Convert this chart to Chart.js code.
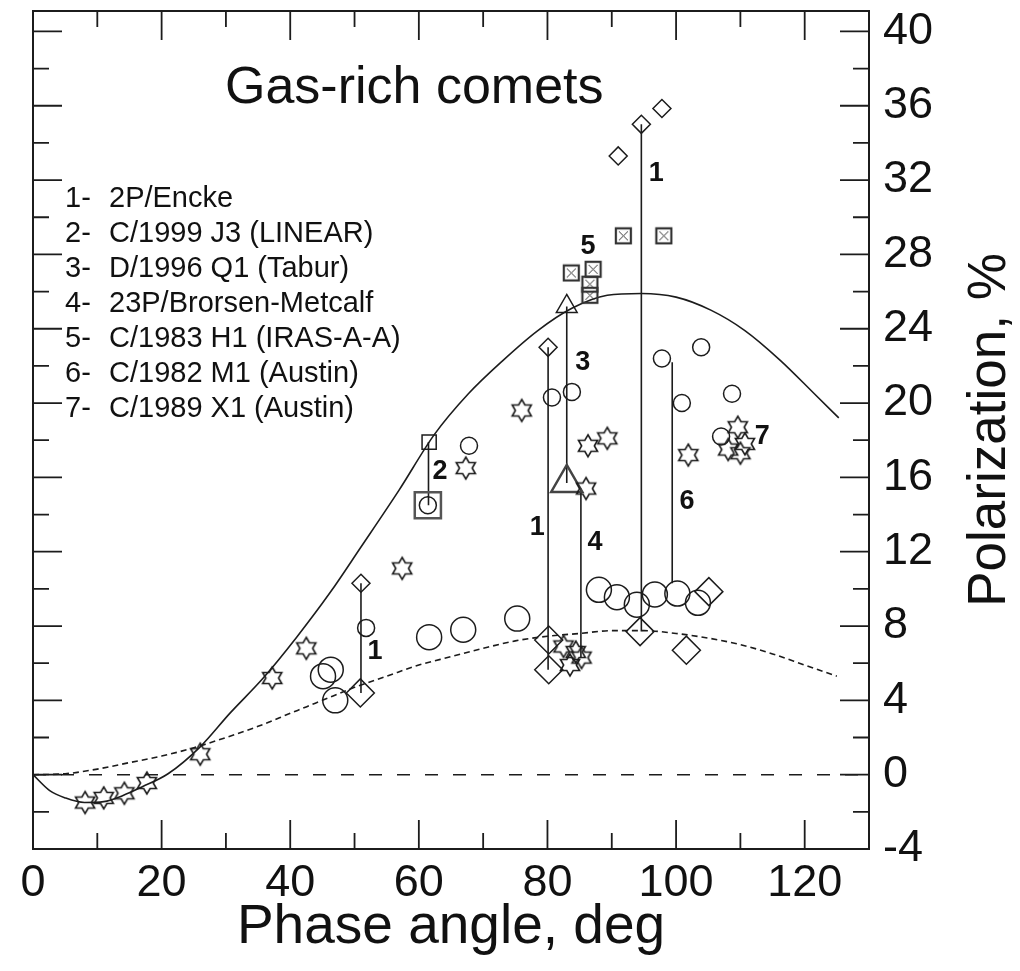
<!DOCTYPE html>
<html>
<head>
<meta charset="utf-8">
<title>Gas-rich comets</title>
<script src="https://cdn.jsdelivr.net/npm/chart.js@4.4.1/dist/chart.umd.min.js"></script>
<style>
  html, body { margin: 0; padding: 0; background: #fff; }
  #wrap { width: 1020px; height: 971px; position: relative; }
</style>
</head>
<body>
<div id="wrap"><canvas id="chart"></canvas></div>
<script>
const xTicks = [0, 20, 40, 60, 80, 100, 120];
const yTicks = [-4, 0, 4, 8, 12, 16, 20, 24, 28, 32, 36, 40];

const comets = ['2P/Encke', 'C/1999 J3 (LINEAR)', 'D/1996 Q1 (Tabur)', '23P/Brorsen-Metcalf',
  'C/1983 H1 (IRAS-A-A)', 'C/1982 M1 (Austin)', 'C/1989 X1 (Austin)'];

// phase curves
const solidX = [0, 2.6, 5, 8, 11, 14, 17, 21, 26, 30.6, 35.8, 41, 46.2, 50.9, 56.9, 62.4, 67.7, 73.1, 78.5, 83.8, 89.3, 94.6, 100, 105.4, 110.7, 116.2, 121.5, 125.3];
const solidY = [0, -0.86, -1.25, -1.5, -1.45, -1.12, -0.65, 0.05, 1.5, 3.3, 5.2, 7.4, 9.8, 12.2, 15.3, 18.3, 20.5, 22.3, 23.9, 25.1, 25.8, 25.9, 25.7, 25.0, 23.9, 22.3, 20.5, 19.2];
const dotX = [0, 5, 10, 15, 20, 25, 30, 35, 40, 45, 50, 55, 60, 65, 70, 75, 80, 85, 90, 95, 100, 105, 110, 115, 120, 125];
const dotY = [0, 0.05, 0.3, 0.65, 1.0, 1.45, 2.0, 2.6, 3.3, 4.0, 4.7, 5.3, 5.9, 6.35, 6.8, 7.2, 7.45, 7.6, 7.75, 7.75, 7.6, 7.35, 7.0, 6.5, 5.9, 5.3];

// observations [phase, polarization]
const smallDiamonds = [[51.0, 10.3], [80.1, 23.0], [91.0, 33.3], [94.6, 35.0], [97.8, 35.85]];
const bigDiamonds = [[50.9, 4.4], [80.2, 7.25], [80.2, 5.65], [94.4, 7.7], [101.6, 6.7], [105.1, 9.85]];
const smallCircles = [[51.8, 7.9], [61.4, 14.5], [67.8, 17.7], [80.7, 20.3], [83.8, 20.6], [97.8, 22.4],
  [100.9, 20.0], [103.9, 23.0], [107.0, 18.2], [108.7, 20.5]];
const bigCircles = [[45.1, 5.3], [46.3, 5.65], [47.0, 4.0], [61.6, 7.4], [66.9, 7.8], [75.3, 8.4], [88.0, 9.95],
  [90.8, 9.55], [93.9, 9.15], [96.7, 9.7], [100.2, 9.75], [103.4, 9.25]];
const stars = [[8.1, -1.5], [11.0, -1.25], [14.2, -1.0], [17.7, -0.45], [26.0, 1.1], [37.2, 5.2], [42.5, 6.8],
  [57.4, 11.1], [67.3, 16.5], [76.0, 19.6], [82.5, 6.9], [83.5, 5.9], [84.4, 6.6], [85.3, 6.3], [86.0, 15.4],
  [86.3, 17.7], [89.3, 18.1], [101.9, 17.2], [108.1, 17.5], [109.6, 18.7], [110.0, 17.3], [110.7, 17.8]];
const crossSquares = [[83.7, 27.0], [86.6, 25.8], [86.6, 26.4], [87.1, 27.2], [91.8, 29.0], [98.1, 29.0]];
const smallTriangles = [[83.0, 25.2]];
const bigTriangles = [[83.0, 15.7]];
const smallSquares = [[61.6, 17.9]];
const bigSquares = [[61.4, 14.5]];

// vertical connectors [phase, top, bottom]
const connectors = [[51.0, 10.3, 4.4], [61.5, 17.9, 14.5], [80.1, 23.0, 5.65], [83.0, 25.2, 15.7],
  [85.2, 15.4, 6.3], [94.6, 35.0, 7.7], [99.4, 22.2, 10.3]];

// comet numbers written next to the connectors
const numText = ['1', '5', '3', '2', '1', '4', '6', '7', '1'];
const numPos = [[96.9, 32.35], [86.3, 28.4], [85.5, 22.2], [63.3, 16.3], [78.4, 13.3], [87.4, 12.5],
  [101.7, 14.7], [113.4, 18.2], [53.2, 6.6]];

const ink = '#1c1c1c';
const font = "'Liberation Sans', Arial, Helvetica, sans-serif";

function pts(arr) {
  return arr.map(p => ({ x: p[0], y: p[1] }));
}

function makeStar(r, lw) {
  const s = Math.ceil(2 * r + 2 * lw + 2);
  const c = document.createElement('canvas');
  c.width = c.height = s;
  const g = c.getContext('2d');
  g.translate(s / 2, s / 2);
  g.beginPath();
  for (let i = 0; i < 12; i++) {
    const a = -Math.PI / 2 + i * Math.PI / 6;
    const rr = i % 2 === 0 ? r : r / Math.sqrt(3);
    g.lineTo(rr * Math.cos(a), rr * Math.sin(a));
  }
  g.closePath();
  g.lineWidth = lw;
  g.strokeStyle = ink;
  g.stroke();
  return c;
}

function makeCrossSquare(side) {
  const s = side + 4;
  const c = document.createElement('canvas');
  c.width = c.height = s;
  const g = c.getContext('2d');
  const o = 2;
  g.strokeStyle = '#333';
  g.lineWidth = 2.2;
  g.strokeRect(o, o, side, side);
  g.lineWidth = 1;
  g.beginPath();
  g.moveTo(o + 3, o + 3); g.lineTo(o + side - 3, o + side - 3);
  g.moveTo(o + side - 3, o + 3); g.lineTo(o + 3, o + side - 3);
  g.stroke();
  return c;
}

const starImg = makeStar(11, 1.6);
const crossImg = makeCrossSquare(15);

function markers(arr, style, radius, extra) {
  return Object.assign({
    data: pts(arr),
    pointStyle: style,
    pointRadius: radius,
    pointHoverRadius: radius,
    pointBorderColor: ink,
    pointBackgroundColor: 'rgba(0,0,0,0)',
    pointBorderWidth: 1.5,
    showLine: false
  }, extra || {});
}

function curve(xs, ys, dash, width) {
  return {
    data: xs.map((x, i) => ({ x: x, y: ys[i] })),
    showLine: true,
    borderColor: ink,
    borderWidth: width,
    borderDash: dash,
    pointRadius: 0,
    cubicInterpolationMode: 'monotone',
    fill: false
  };
}

const datasets = [
  markers(smallDiamonds, 'rectRot', 9),
  markers(bigDiamonds, 'rectRot', 14),
  markers(smallCircles, 'circle', 8.5),
  markers(bigCircles, 'circle', 12.5),
  markers(stars, starImg, 10),
  markers(crossSquares, crossImg, 9),
  markers(smallTriangles, 'triangle', 12),
  markers(bigTriangles, 'triangle', 18, { pointBorderWidth: 2.5, pointBorderColor: '#444' }),
  markers(smallSquares, 'rect', 10),
  markers(bigSquares, 'rect', 18.5, { pointBorderWidth: 2.5, pointBorderColor: '#555' }),
  curve(solidX, solidY, [], 1.6),
  curve(dotX, dotY, [6, 4], 1.6),
  curve([0, 130], [0, 0], [13, 15], 1.6)
];
connectors.forEach(c => {
  datasets.push({
    data: [{ x: c[0], y: c[1] }, { x: c[0], y: c[2] }],
    showLine: true,
    borderColor: ink,
    borderWidth: 1.6,
    pointRadius: 0
  });
});

const framePlugin = {
  id: 'frame',
  afterDatasetsDraw(chart) {
    const { ctx, chartArea: a, scales } = chart;
    const sx = scales.x, sy = scales.y;
    ctx.save();
    ctx.strokeStyle = ink;
    ctx.lineWidth = 2;
    ctx.strokeRect(a.left, a.top, a.right - a.left, a.bottom - a.top);
    ctx.lineWidth = 1.8;
    ctx.beginPath();
    for (let v = 0; v <= 130; v += 10) {
      const px = sx.getPixelForValue(v);
      const len = v % 20 === 0 ? 29 : 16;
      ctx.moveTo(px, a.bottom); ctx.lineTo(px, a.bottom - len);
      ctx.moveTo(px, a.top); ctx.lineTo(px, a.top + len);
    }
    for (let v = -4; v <= 40; v += 2) {
      const py = sy.getPixelForValue(v);
      const len = v % 4 === 0 ? 29 : 16;
      ctx.moveTo(a.left, py); ctx.lineTo(a.left + len, py);
      ctx.moveTo(a.right, py); ctx.lineTo(a.right - len, py);
    }
    ctx.stroke();

    ctx.fillStyle = '#111';
    ctx.textBaseline = 'alphabetic';
    ctx.textAlign = 'left';
    ctx.font = '52px ' + font;
    ctx.fillText('Gas-rich comets', a.left + 192, a.top + 92);

    ctx.font = '29px ' + font;
    comets.forEach((name, i) => {
      const base = a.top + 196 + i * 35;
      ctx.fillText((i + 1) + '-', a.left + 32, base);
      ctx.fillText(name, a.left + 76, base);
    });

    ctx.font = 'bold 27px ' + font;
    ctx.textAlign = 'center';
    ctx.textBaseline = 'middle';
    numText.forEach((t, i) => {
      ctx.fillText(t, sx.getPixelForValue(numPos[i][0]), sy.getPixelForValue(numPos[i][1]));
    });

    // y title reads bottom to top
    ctx.font = '53px ' + font;
    ctx.translate(a.right + 121, (a.top + a.bottom) / 2);
    ctx.rotate(-Math.PI / 2);
    ctx.fillText('Polarization, %', 0, 0);
    ctx.restore();
  }
};

new Chart(document.getElementById('chart'), {
  type: 'scatter',
  data: { datasets: datasets },
  options: {
    responsive: true,
    maintainAspectRatio: false,
    animation: false,
    events: [],
    layout: { autoPadding: false, padding: { left: 33, top: 11, right: 0, bottom: 0 } },
    plugins: {
      legend: { display: false },
      tooltip: { enabled: false }
    },
    scales: {
      x: {
        type: 'linear',
        position: 'bottom',
        min: 0,
        max: 130,
        grid: { display: false, drawTicks: false },
        border: { display: false },
        ticks: { color: '#111', font: { family: font, size: 45 }, padding: 8, maxRotation: 0, autoSkip: false },
        title: { display: true, text: 'Phase angle, deg', color: '#111', font: { family: font, size: 55 }, padding: { top: 0, bottom: 10 } },
        afterBuildTicks: s => { s.ticks = xTicks.map(v => ({ value: v })); },
        afterFit: s => { s.height = 122; s.paddingLeft = 0; s.paddingRight = 0; }
      },
      y: {
        type: 'linear',
        position: 'right',
        min: -4,
        max: 41.1,
        grid: { display: false, drawTicks: false },
        border: { display: false },
        ticks: { color: '#111', font: { family: font, size: 45 }, padding: 14, autoSkip: false },
        afterBuildTicks: s => { s.ticks = yTicks.map(v => ({ value: v })); },
        afterFit: s => { s.width = 151; s.paddingTop = 0; s.paddingBottom = 0; }
      }
    }
  },
  plugins: [framePlugin]
});
</script>
</body>
</html>
